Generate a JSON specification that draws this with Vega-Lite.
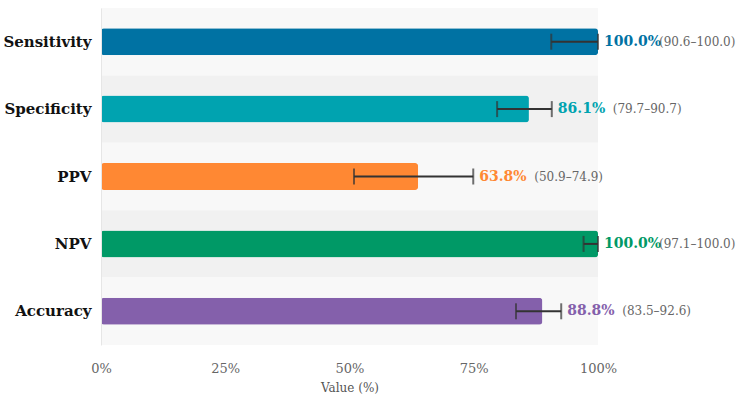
{
  "$schema": "https://vega.github.io/schema/vega-lite/v6.json",
  "width": 497,
  "height": 337,
  "autosize": "none",
  "padding": {"left": 101, "top": 8, "right": 140, "bottom": 55},
  "background": "white",
  "config": {
    "view": {"stroke": null},
    "font": "DejaVu Serif"
  },
  "data": {
    "values": [
      {"metric": "Sensitivity", "value": 100.0, "lo": 90.6, "hi": 100.0},
      {"metric": "Specificity", "value": 86.1, "lo": 79.7, "hi": 90.7},
      {"metric": "PPV", "value": 63.8, "lo": 50.9, "hi": 74.9},
      {"metric": "NPV", "value": 100.0, "lo": 97.1, "hi": 100.0},
      {"metric": "Accuracy", "value": 88.8, "lo": 83.5, "hi": 92.6}
    ]
  },
  "transform": [
    {"calculate": "format(datum.value, '.1f') + '%'", "as": "valueLabel"},
    {"calculate": "'(' + format(datum.lo, '.1f') + '–' + format(datum.hi, '.1f') + ')'", "as": "ciLabel"}
  ],
  "encoding": {
    "y": {
      "field": "metric",
      "type": "nominal",
      "sort": ["Sensitivity", "Specificity", "PPV", "NPV", "Accuracy"],
      "scale": {"paddingInner": 0, "paddingOuter": 0},
      "axis": {
        "title": null,
        "ticks": false,
        "domain": true,
        "domainColor": "#e6e6e6",
        "labelFont": "DejaVu Serif",
        "labelFontWeight": "bold",
        "labelFontSize": 15,
        "labelColor": "#111111",
        "labelPadding": 10
      }
    }
  },
  "layer": [
    {
      "mark": {"type": "rect"},
      "encoding": {
        "x": {
          "datum": 0,
          "type": "quantitative",
          "scale": {"domain": [0, 100], "nice": false},
          "axis": {
            "values": [0, 25, 50, 75, 100],
            "labelExpr": "datum.value + '%'",
            "labelFlush": false,
            "labelOverlap": false,
            "grid": false,
            "ticks": false,
            "domain": false,
            "labelFont": "DejaVu Serif",
            "labelFontSize": 13,
            "labelColor": "#666666",
            "labelPadding": 17,
            "title": "Value (%)",
            "titleFont": "DejaVu Serif",
            "titleFontSize": 12,
            "titleFontWeight": "normal",
            "titleColor": "#555555",
            "titlePadding": 7
          }
        },
        "x2": {"datum": 100},
        "fill": {
          "condition": {"test": "indexof(['Specificity', 'NPV'], datum.metric) >= 0", "value": "#f1f1f1"},
          "value": "#f8f8f8"
        }
      }
    },
    {
      "mark": {"type": "bar", "height": {"band": 0.4}, "cornerRadius": 3},
      "encoding": {
        "x": {"field": "value", "type": "quantitative"},
        "color": {
          "field": "metric",
          "type": "nominal",
          "legend": null,
          "scale": {
            "domain": ["Sensitivity", "Specificity", "PPV", "NPV", "Accuracy"],
            "range": ["#0072a3", "#00a3b0", "#ff8833", "#009966", "#8460ab"]
          }
        }
      }
    },
    {
      "mark": {"type": "rule", "color": "#333333", "strokeWidth": 2},
      "encoding": {
        "x": {"field": "lo", "type": "quantitative"},
        "x2": {"field": "hi"}
      }
    },
    {
      "mark": {"type": "tick", "color": "#333333", "thickness": 2, "size": 16, "orient": "vertical"},
      "encoding": {"x": {"field": "lo", "type": "quantitative"}}
    },
    {
      "mark": {"type": "tick", "color": "#333333", "thickness": 2, "size": 16, "orient": "vertical"},
      "encoding": {"x": {"field": "hi", "type": "quantitative"}}
    },
    {
      "mark": {"type": "text", "align": "left", "baseline": "middle", "dx": 6, "fontWeight": "bold", "fontSize": 14, "font": "DejaVu Serif"},
      "encoding": {
        "x": {"field": "hi", "type": "quantitative"},
        "text": {"field": "valueLabel"},
        "color": {"field": "metric", "type": "nominal", "legend": null}
      }
    },
    {
      "mark": {"type": "text", "align": "left", "baseline": "middle", "dx": 61, "fontSize": 12, "font": "DejaVu Serif", "color": "#666666"},
      "encoding": {
        "x": {"field": "hi", "type": "quantitative"},
        "text": {"field": "ciLabel"}
      }
    }
  ]
}
